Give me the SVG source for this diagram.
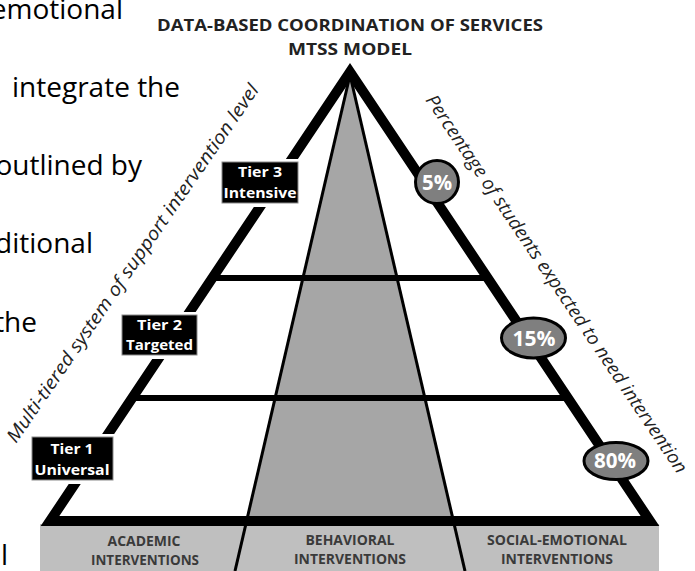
<svg xmlns="http://www.w3.org/2000/svg" width="695" height="571" viewBox="0 0 695 571">
  <style>
    .body { font-family: "Open Sans", "Liberation Sans", sans-serif; font-size: 28px; fill: #000; }
    .title { font-family: "Open Sans", "Liberation Sans", sans-serif; font-weight: bold; font-size: 16.5px; fill: #222; text-anchor: middle; }
    .axis { font-family: "Open Sans", "Liberation Sans", sans-serif; font-style: italic; font-size: 18.5px; fill: #222; }
    .tier-box { fill: #000; stroke: #8a8a8a; stroke-width: 1; }
    .tier-gap { fill: #fff; }
    .tier-text { font-family: "Open Sans", "Liberation Sans", sans-serif; font-weight: bold; font-size: 14.5px; fill: #fff; text-anchor: middle; }
    .pct { fill: #7f7f7f; stroke: #000; stroke-width: 3; }
    .pct-text { font-family: "Open Sans", "Liberation Sans", sans-serif; font-weight: bold; font-size: 21px; fill: #fff; text-anchor: middle; }
    .band-text { font-family: "Open Sans", "Liberation Sans", sans-serif; font-weight: bold; font-size: 13.5px; fill: #3a3a3a; text-anchor: middle; }
    .tier-line { stroke: #000; stroke-width: 6; }
    .wedge-line { stroke: #000; stroke-width: 3; }
  </style>

  <rect width="695" height="571" fill="#fff"/>

  <!-- surrounding paragraph text, partly hidden behind the figure -->
  <g id="paragraph">
    <text class="body" x="123" y="19" text-anchor="end">emotional</text>
    <text class="body" x="180" y="97" text-anchor="end">integrate the</text>
    <text class="body" x="142" y="175" text-anchor="end">outlined by</text>
    <text class="body" x="93" y="253" text-anchor="end">ditional</text>
    <text class="body" x="37" y="332" text-anchor="end">the</text>
    <text class="body" x="8" y="565" text-anchor="end">l</text>
  </g>

  <!-- heading -->
  <g id="title">
    <text class="title" x="350" y="31" textLength="386" lengthAdjust="spacingAndGlyphs">DATA-BASED COORDINATION OF SERVICES</text>
    <text class="title" x="350" y="55" textLength="124" lengthAdjust="spacingAndGlyphs">MTSS MODEL</text>
  </g>

  <!-- base band of intervention areas -->
  <g id="band">
    <rect x="40" y="524" width="619" height="47" fill="#bfbfbf"/>
  </g>

  <!-- behavioral wedge -->
  <g id="wedge">
    <polygon points="350,75 247.4,521 452.6,521" fill="#a6a6a6"/>
  </g>

  <g id="connectors">
    <!-- tier boundaries -->
    <line class="tier-line" x1="212" y1="278" x2="488" y2="278"/>
    <line class="tier-line" x1="132" y1="398" x2="568" y2="398"/>
    <!-- wedge edges continuing through the band -->
    <line class="wedge-line" x1="350" y1="75" x2="235" y2="571"/>
    <line class="wedge-line" x1="350" y1="75" x2="465" y2="571"/>
    <!-- pyramid outline -->
    <polygon points="350,72 50,521 650,521" fill="none" stroke="#000" stroke-width="10" stroke-linejoin="miter"/>
  </g>

  <!-- axis captions -->
  <g id="axis-left">
    <text class="axis" transform="translate(16,444) rotate(-55.5)" textLength="430" lengthAdjust="spacingAndGlyphs">Multi-tiered system of support intervention level</text>
  </g>
  <g id="axis-right">
    <text class="axis" transform="translate(425,100) rotate(56)" textLength="452" lengthAdjust="spacingAndGlyphs">Percentage of students expected to need intervention</text>
  </g>

  <!-- tier labels -->
  <g id="tier3">
    <rect class="tier-gap" x="219" y="159" width="82" height="48"/>
    <rect class="tier-box" x="222" y="162" width="76" height="41"/>
    <text class="tier-text" x="260" y="177" textLength="44" lengthAdjust="spacingAndGlyphs">Tier 3</text>
    <text class="tier-text" x="260" y="198" textLength="73" lengthAdjust="spacingAndGlyphs">Intensive</text>
  </g>
  <g id="tier2">
    <rect class="tier-gap" x="119" y="312" width="81" height="47"/>
    <rect class="tier-box" x="122" y="315" width="75" height="40"/>
    <text class="tier-text" x="159.5" y="330" textLength="45" lengthAdjust="spacingAndGlyphs">Tier 2</text>
    <text class="tier-text" x="159.5" y="350" textLength="67" lengthAdjust="spacingAndGlyphs">Targeted</text>
  </g>
  <g id="tier1">
    <rect class="tier-gap" x="29" y="434" width="87" height="50"/>
    <rect class="tier-box" x="32" y="437" width="81" height="43"/>
    <text class="tier-text" x="72" y="454" textLength="43" lengthAdjust="spacingAndGlyphs">Tier 1</text>
    <text class="tier-text" x="72" y="475" textLength="75" lengthAdjust="spacingAndGlyphs">Universal</text>
  </g>

  <!-- percentage markers -->
  <g id="pct5">
    <circle class="pct" cx="437" cy="182" r="21.5"/>
    <text class="pct-text" x="437" y="190" textLength="30" lengthAdjust="spacingAndGlyphs">5%</text>
  </g>
  <g id="pct15">
    <ellipse class="pct" cx="533.5" cy="338" rx="32" ry="20"/>
    <text class="pct-text" x="534" y="346" textLength="43" lengthAdjust="spacingAndGlyphs">15%</text>
  </g>
  <g id="pct80">
    <ellipse class="pct" cx="616" cy="461" rx="32" ry="18.5"/>
    <text class="pct-text" x="615" y="468" textLength="42" lengthAdjust="spacingAndGlyphs">80%</text>
  </g>

  <!-- band labels -->
  <g id="academic">
    <text class="band-text" x="144" y="546" textLength="73" lengthAdjust="spacingAndGlyphs">ACADEMIC</text>
    <text class="band-text" x="145" y="565" textLength="108" lengthAdjust="spacingAndGlyphs">INTERVENTIONS</text>
  </g>
  <g id="behavioral">
    <text class="band-text" x="350" y="545" textLength="89" lengthAdjust="spacingAndGlyphs">BEHAVIORAL</text>
    <text class="band-text" x="350" y="564" textLength="112" lengthAdjust="spacingAndGlyphs">INTERVENTIONS</text>
  </g>
  <g id="social-emotional">
    <text class="band-text" x="557" y="545" textLength="140" lengthAdjust="spacingAndGlyphs">SOCIAL-EMOTIONAL</text>
    <text class="band-text" x="557" y="564" textLength="112" lengthAdjust="spacingAndGlyphs">INTERVENTIONS</text>
  </g>
</svg>
